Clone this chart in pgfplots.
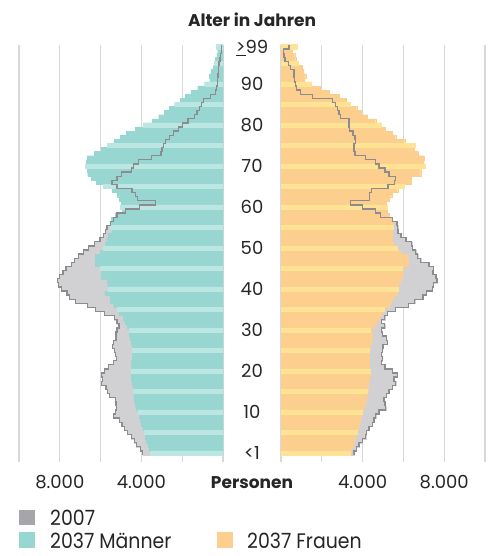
\documentclass[border=0pt]{standalone}
\usepackage{fontspec}
\setmainfont{Poppins}
\newfontfamily\legfont{Poppins}[FakeStretch=0.9]
\usepackage{pgfplots}
\pgfplotsset{compat=1.18}
\usepackage{pgfplotstable}

\definecolor{teal37}{RGB}{152,214,209}
\definecolor{tealL}{RGB}{188,230,226}
\definecolor{or37}{RGB}{252,207,143}
\definecolor{orL}{RGB}{254,227,148}
\definecolor{g07}{RGB}{209,209,211}
\definecolor{gline}{RGB}{140,140,143}
\definecolor{glegend}{RGB}{166,166,170}
\definecolor{gridc}{RGB}{216,216,216}

% values in 1000 persons
\pgfplotstableread{
age m37 m07 f37 f07
0 3.56 3.93 3.38 3.58
1 3.60 4.05 3.46 3.69
2 3.67 4.25 3.52 3.82
3 3.76 4.35 3.58 3.99
4 3.80 4.48 3.65 4.15
5 3.85 4.68 3.71 4.18
6 3.93 4.83 3.77 4.31
7 4.00 4.95 3.82 4.48
8 4.05 5.08 3.87 4.56
9 4.10 5.36 3.93 4.64
10 4.18 5.27 3.99 4.80
11 4.24 5.22 4.04 5.13
12 4.29 5.24 4.10 5.10
13 4.34 5.27 4.15 5.05
14 4.38 5.55 4.20 5.16
15 4.41 5.65 4.23 5.29
16 4.42 5.73 4.26 5.46
17 4.47 5.96 4.28 5.62
18 4.49 5.89 4.31 5.54
19 4.50 5.96 4.35 5.70
20 4.50 5.80 4.35 5.46
21 4.50 5.60 4.31 5.10
22 4.49 5.36 4.31 4.93
23 4.46 5.22 4.31 4.97
24 4.46 5.26 4.31 4.93
25 4.46 5.33 4.31 4.97
26 4.46 5.40 4.35 5.00
27 4.49 5.36 4.40 5.21
28 4.54 5.24 4.47 5.16
29 4.59 5.24 4.45 4.97
30 4.62 5.19 4.36 4.92
31 4.70 5.10 4.55 5.08
32 4.82 5.20 4.68 4.91
33 4.91 5.33 4.83 5.08
34 5.08 5.80 4.97 5.22
35 5.19 6.25 5.05 5.60
36 5.36 6.63 5.30 6.25
37 5.52 7.22 5.40 6.55
38 5.55 7.52 5.52 6.96
39 5.80 7.65 5.70 7.12
40 5.62 7.92 5.75 7.42
41 5.65 8.06 5.76 7.47
42 5.68 8.10 5.83 7.65
43 5.96 8.01 5.95 7.60
44 5.96 7.85 5.97 7.45
45 6.00 7.70 5.96 7.48
46 6.25 7.43 6.24 7.25
47 6.25 7.27 6.24 6.85
48 6.25 7.10 6.20 6.70
49 6.00 6.85 5.85 6.60
50 5.86 6.60 5.70 6.45
51 5.78 6.30 5.50 6.41
52 5.70 6.03 5.45 6.12
53 5.62 5.85 5.47 5.88
54 5.45 5.75 5.47 5.74
55 5.54 5.69 5.50 5.72
56 5.54 5.53 5.50 5.68
57 5.46 5.37 5.45 5.46
58 5.29 5.20 5.30 4.87
59 4.95 4.77 5.20 4.62
60 5.04 4.10 5.22 3.98
61 4.98 3.32 5.16 3.41
62 5.08 4.20 5.30 4.33
63 5.20 4.30 5.44 4.34
64 5.45 4.46 5.72 4.42
65 5.88 5.20 6.03 5.25
66 6.20 5.44 6.36 5.56
67 6.45 5.19 6.40 5.62
68 6.63 4.98 6.85 5.29
69 6.66 4.49 6.85 5.10
70 6.74 4.38 7.06 4.80
71 6.71 4.13 6.96 4.64
72 6.66 3.51 7.01 4.15
73 6.30 3.04 6.73 3.63
74 5.98 2.99 6.52 3.58
75 5.68 2.91 6.55 3.58
76 5.32 2.82 6.06 3.66
77 5.03 2.61 5.62 3.63
78 4.75 2.42 5.46 3.53
79 4.29 2.17 5.10 3.37
80 3.92 1.98 4.93 3.33
81 3.48 1.71 4.64 3.33
82 3.15 1.39 4.23 2.92
83 2.87 1.27 3.94 2.84
84 2.63 1.16 3.71 2.76
85 2.37 1.06 3.37 2.68
86 2.09 0.95 3.20 2.52
87 1.84 0.62 2.84 1.54
88 1.57 0.38 2.35 0.96
89 1.24 0.31 1.94 0.77
90 0.90 0.28 1.50 0.72
91 0.64 0.26 1.13 0.67
92 0.67 0.24 1.21 0.64
93 0.59 0.23 1.08 0.64
94 0.49 0.21 1.05 0.47
95 0.42 0.20 0.83 0.36
96 0.38 0.15 0.72 0.20
97 0.30 0.11 0.67 0.15
98 0.26 0.08 0.56 0.13
99 0.33 0.08 0.77 0.39
100 0.33 0.08 0.77 0.39
}\data

\pgfplotsset{
  pyr/.style={
    scale only axis, width=204pt, height=417pt,
    xmin=0, xmax=10, ymin=-2.2, ymax=99.5,
    axis line style={draw=none},
    major tick length=0pt,
    xtick={0,2,4,6,8,10},
    xticklabels={,,4.000,,8.000,},
    xmajorgrids,
    major grid style={draw=gridc, line width=1.3pt},
    xticklabel style={anchor=base, yshift=-27pt, font=\fontsize{18}{20}\selectfont, text=black!85},
  },
  barsty/.style={xbar, bar width=1, bar shift=0pt, line width=0.25pt,
    restrict y to domain=-1:99.6},
  lightsty/.style={y filter/.expression={(mod(y,5)==0 || y==99) ? y : nan}},
  outl/.style={const plot mark right, draw=gline, line width=1.3pt, mark=none},
}

\begin{document}
\begin{tikzpicture}
\path[use as bounding box] (0pt,0pt) rectangle (493pt,556pt);

% Men (left)
\begin{axis}[pyr, at={(19pt,94pt)}, anchor=south west, x dir=reverse, ytick=\empty]
  \addplot[barsty, fill=g07, draw=g07] table[x=m07, y=age] {\data};
  \addplot[barsty, fill=teal37, draw=teal37] table[x=m37, y=age] {\data};
  \addplot[barsty, lightsty, fill=tealL, draw=tealL] table[x=m37, y=age] {\data};
  \addplot[outl] table[x=m07, y expr=\thisrow{age}-0.5] {\data};
\end{axis}

% Women (right)
\begin{axis}[pyr, at={(281pt,94pt)}, anchor=south west,
    ytick={0,10,20,30,40,50,60,70,80,90,99},
    yticklabels={<1,10,20,30,40,50,60,70,80,90,\underline{>}99},
    yticklabel style={anchor=base, xshift=-29pt, yshift=-6.5pt, font=\fontsize{18}{20}\selectfont, text=black!85}]
  \addplot[barsty, fill=g07, draw=g07] table[x=f07, y=age] {\data};
  \addplot[barsty, fill=or37, draw=or37] table[x=f37, y=age] {\data};
  \addplot[barsty, lightsty, fill=orL, draw=orL] table[x=f37, y=age] {\data};
  \addplot[outl] table[x=f07, y expr=\thisrow{age}-0.5] {\data};
\end{axis}

% titles
\node[anchor=base, font=\bfseries\fontsize{17}{20}\selectfont, text=black!85] at (252pt,529pt) {Alter in Jahren};
\node[anchor=base, font=\bfseries\fontsize{17}{20}\selectfont, text=black!85] at (252pt,67pt) {Personen};

% legend
\fill[glegend] (19pt,30.5pt) rectangle (35pt,46pt);
\node[anchor=base west, inner sep=0pt, font=\legfont\fontsize{21}{24}\selectfont, text=black!85] at (50pt,30.5pt) {2007};
\fill[teal37] (19pt,8pt) rectangle (35pt,23.5pt);
\node[anchor=base west, inner sep=0pt, font=\legfont\fontsize{21}{24}\selectfont, text=black!85] at (50pt,8pt) {2037 Männer};
\fill[or37] (217pt,8pt) rectangle (232.5pt,23.5pt);
\node[anchor=base west, inner sep=0pt, font=\legfont\fontsize{21}{24}\selectfont, text=black!85] at (247pt,8pt) {2037 Frauen};
\end{tikzpicture}
\end{document}
